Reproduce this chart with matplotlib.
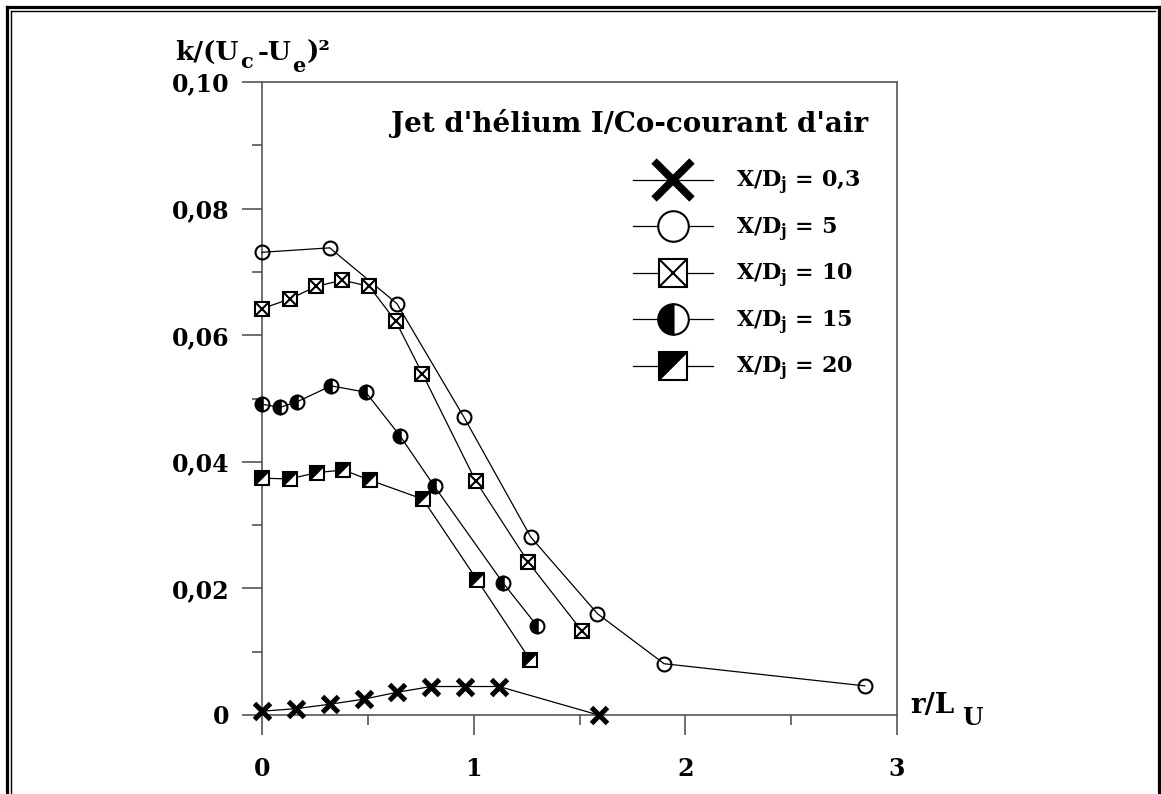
import matplotlib
matplotlib.use("Agg")
import matplotlib.pyplot as plt
from matplotlib.lines import Line2D
from matplotlib.legend_handler import HandlerTuple

plt.rcParams['font.family'] = ['DejaVu Serif']
plt.rcParams['font.weight'] = 'bold'
plt.rcParams['mathtext.fontset'] = 'dejavuserif'
plt.rcParams['mathtext.default'] = 'bf'

# ---------------- data ----------------
x03 = [0, 0.16, 0.32, 0.48, 0.64, 0.80, 0.96, 1.12, 1.59]
y03 = [0.0006, 0.0010, 0.0017, 0.0025, 0.0036, 0.0045, 0.0045, 0.0045, 0.0000]

x05 = [0, 0.32, 0.637, 0.955, 1.27, 1.585, 1.90, 2.848]
y05 = [0.0731, 0.0738, 0.0650, 0.0470, 0.0281, 0.0160, 0.0081, 0.0046]

x10 = [0, 0.13, 0.255, 0.38, 0.507, 0.632, 0.758, 1.009, 1.259, 1.511]
y10 = [0.0642, 0.0657, 0.0677, 0.0687, 0.0677, 0.0622, 0.0539, 0.0370, 0.0241, 0.0133]

x15 = [0, 0.085, 0.167, 0.326, 0.49, 0.652, 0.815, 1.138, 1.299]
y15 = [0.0491, 0.0486, 0.0495, 0.0520, 0.0510, 0.0441, 0.0361, 0.0209, 0.0141]

x20 = [0, 0.132, 0.259, 0.385, 0.51, 0.76, 1.015, 1.267]
y20 = [0.0374, 0.0373, 0.0383, 0.0387, 0.0371, 0.0341, 0.0214, 0.0087]

xticks = [0, 1, 2, 3]
xticklabels = ['0', '1', '2', '3']
yticks = [0, 0.02, 0.04, 0.06, 0.08, 0.10]
yticklabels = ['0', '0,02', '0,04', '0,06', '0,08', '0,10']
labels = ['$X/D_j$ = 0,3', '$X/D_j$ = 5', '$X/D_j$ = 10', '$X/D_j$ = 15', '$X/D_j$ = 20']
title = "Jet d'hélium I/Co-courant d'air"

# ---------------- figure ----------------
W, H = 1161, 794
fig = plt.figure(figsize=(W / 100, H / 100), dpi=100)


def fx(px):
    return px / W


def fy(py):
    return 1 - py / H


ax = fig.add_axes([fx(262), fy(715), 635 / W, 633 / H])
ax.set_xlim(0, 3)
ax.set_ylim(0, 0.1)

spc = '#555555'
for s in ax.spines.values():
    s.set_color(spc)
    s.set_linewidth(1.2)

ax.set_xticks(xticks)
ax.set_xticklabels(xticklabels)
ax.set_xticks([0.5, 1.5, 2.5], minor=True)
ax.set_yticks(yticks)
ax.set_yticklabels(yticklabels)
ax.set_yticks([0.01, 0.03, 0.05, 0.07, 0.09], minor=True)
ax.tick_params(which='major', direction='out', length=14.4, width=1.2, color=spc,
               labelsize=17)
ax.tick_params(which='minor', direction='out', length=7.2, width=1.2, color=spc)
ax.tick_params(axis='x', which='major', pad=16)
ax.tick_params(axis='y', which='major', pad=9)
for lab in ax.get_xticklabels() + ax.get_yticklabels():
    lab.set_fontweight('bold')

lw = 0.9
mew = 1.5
ms = 10
tri = [(-1, 1), (1, 1), (-1, -1)]

# X/D = 0.3
ax.plot(x03, y03, color='k', lw=lw, marker='x', ms=11, mec='k', mew=3.6,
        clip_on=False, zorder=3)
# X/D = 5
ax.plot(x05, y05, color='k', lw=lw, marker='o', ms=ms, mfc='none', mec='k', mew=mew,
        clip_on=False, zorder=3)
# X/D = 10
ax.plot(x10, y10, color='k', lw=lw, marker='s', ms=ms, mfc='white', mec='k', mew=mew,
        clip_on=False, zorder=3)
ax.plot(x10, y10, ls='none', marker='x', ms=ms, mec='k', mew=mew,
        clip_on=False, zorder=4)
# X/D = 15
ax.plot(x15, y15, color='k', lw=lw, marker='o', ms=ms, fillstyle='left', mfc='k',
        markerfacecoloralt='none', mec='k', mew=mew, clip_on=False, zorder=3)
# X/D = 20
ax.plot(x20, y20, color='k', lw=lw, marker='s', ms=ms, mfc='white', mec='k', mew=mew,
        clip_on=False, zorder=3)
ax.plot(x20, y20, ls='none', marker=tri, ms=ms, mfc='k', mec='k', mew=0.3,
        clip_on=False, zorder=4)

# ---------------- legend ----------------
h1 = Line2D([], [], color='k', lw=lw, marker='x', ms=14, mec='k', mew=5.5)
h2 = Line2D([], [], color='k', lw=lw, marker='o', ms=11, mfc='white', mec='k', mew=mew)
h3a = Line2D([], [], color='k', lw=lw, marker='s', ms=ms, mfc='white', mec='k', mew=mew)
h3b = Line2D([], [], ls='none', marker='x', ms=ms, mec='k', mew=mew)
h4 = Line2D([], [], color='k', lw=lw, marker='o', ms=11, fillstyle='left', mfc='k',
            markerfacecoloralt='white', mec='k', mew=mew)
h5a = Line2D([], [], color='k', lw=lw, marker='s', ms=ms, mfc='white', mec='k', mew=mew)
h5b = Line2D([], [], ls='none', marker=tri, ms=ms, mfc='k', mec='k', mew=0.3)

leg = ax.legend([h1, h2, (h3a, h3b), h4, (h5a, h5b)], labels,
                handler_map={tuple: HandlerTuple(ndivide=1, pad=0)},
                loc='upper left', bbox_to_anchor=(fx(633), fy(169)),
                bbox_transform=fig.transFigure, frameon=False, fontsize=16,
                markerscale=2, numpoints=1, handlelength=3.6, handletextpad=1.05,
                labelspacing=0.83, borderpad=0, borderaxespad=0)
for t in leg.get_texts():
    t.set_fontweight('bold')

# ---------------- texts ----------------
fig.text(fx(868), fy(124), title, ha='right', va='center', fontsize=20, fontweight='bold')

renderer = fig.canvas.get_renderer()


def chain(x_px, y_px, s, size, gap=0):
    t = fig.text(fx(x_px + gap), fy(y_px), s, ha='left', va='baseline',
                 fontsize=size, fontweight='bold')
    bb = t.get_window_extent(renderer)
    return bb.x1


xe = chain(175, 60, 'k/(U', 19)
xe = chain(xe, 68, 'c', 15, 2)
xe = chain(xe, 60, '-U', 19, 4)
xe = chain(xe, 72, 'e', 15, 1)
xe = chain(xe, 60, ')²', 19, 1)

xe = chain(910, 713, 'r/L', 20)
chain(xe, 725, 'U', 17, 8)

# ---------------- frame ----------------
fig.add_artist(Line2D([fx(7), fx(7)], [0, fy(7)], color='k', lw=2.3, transform=fig.transFigure))
fig.add_artist(Line2D([fx(7), 1], [fy(7), fy(7)], color='k', lw=2.3, transform=fig.transFigure))
fig.add_artist(Line2D([fx(1159), fx(1159)], [0, fy(7)], color='k', lw=2.3, transform=fig.transFigure))
fig.add_artist(Line2D([fx(10.8), fx(10.8)], [0, fy(10.8)], color='k', lw=1.0, transform=fig.transFigure))
fig.add_artist(Line2D([fx(10.8), fx(1155)], [fy(10.8), fy(10.8)], color='k', lw=1.0, transform=fig.transFigure))

fig.savefig('out.png', dpi=100)
